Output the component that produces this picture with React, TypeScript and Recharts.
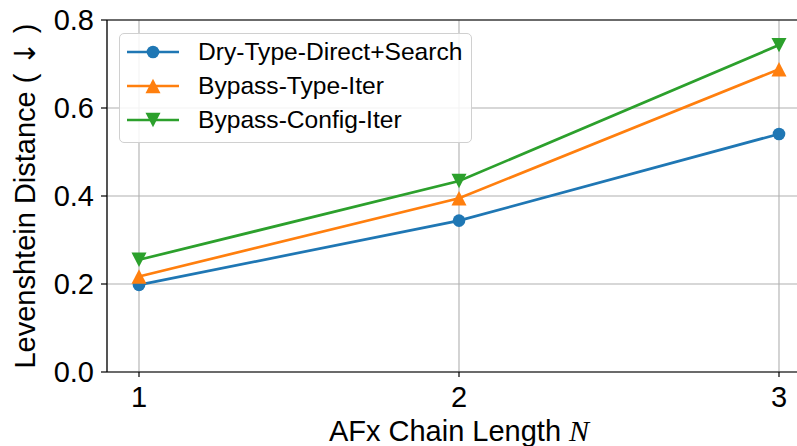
import { LineChart, Line, XAxis, YAxis, CartesianGrid, Legend, ReferenceLine, Label } from "recharts";

const chainLengths = [1, 2, 3];
const dryTypeDirectSearch = [0.198, 0.344, 0.541];
const bypassTypeIter = [0.217, 0.395, 0.688];
const bypassConfigIter = [0.255, 0.434, 0.743];
const yTicks = [0, 0.2, 0.4, 0.6, 0.8];

const seriesNames = ["Dry-Type-Direct+Search", "Bypass-Type-Iter", "Bypass-Config-Iter"];
const seriesKeys = ["dry", "typeIter", "configIter"];
const seriesColors = ["#1f77b4", "#ff7f0e", "#2ca02c"];
const seriesMarkers = ["circle", "up", "down"];

const data = chainLengths.map((n, i) => ({
  n,
  dry: dryTypeDirectSearch[i],
  typeIter: bypassTypeIter[i],
  configIter: bypassConfigIter[i],
}));

const FONT = "'Liberation Sans', Arial, Helvetica, sans-serif";
const AXIS_FONT_SIZE = 29;

function Marker({ cx, cy, kind, color }: { cx: number; cy: number; kind: string; color: string }) {
  if (kind === "circle") return <circle cx={cx} cy={cy} r={6.3} fill={color} />;
  const h = 7.2;
  const w = 7.5;
  const pts =
    kind === "up"
      ? `${cx},${cy - h} ${cx - w},${cy + h} ${cx + w},${cy + h}`
      : `${cx},${cy + h} ${cx - w},${cy - h} ${cx + w},${cy - h}`;
  return <polygon points={pts} fill={color} />;
}

function LegendBox() {
  return (
    <div
      style={{
        width: 353,
        height: 110,
        boxSizing: "border-box",
        border: "1px solid #d0d0d0",
        borderRadius: 5,
        background: "rgba(255,255,255,0.85)",
        padding: "1px 0 0 7px",
        fontFamily: FONT,
        fontSize: 24.6,
        color: "#000",
      }}
    >
      {seriesNames.map((name, i) => (
        <div key={name} style={{ height: 34, display: "flex", alignItems: "center" }}>
          <svg width={52} height={20} style={{ flexShrink: 0 }}>
            <line x1={0} y1={10} x2={52} y2={10} stroke={seriesColors[i]} strokeWidth={2.7} />
            <Marker cx={26} cy={10} kind={seriesMarkers[i]} color={seriesColors[i]} />
          </svg>
          <span style={{ marginLeft: 19, whiteSpace: "nowrap", lineHeight: "34px" }}>{name}</span>
        </div>
      ))}
    </div>
  );
}

export default function App() {
  return (
    <div style={{ position: "absolute", left: 0, top: 0, width: 797, height: 446, overflow: "hidden", background: "#fff" }}>
      <LineChart width={830} height={446} data={data} margin={{ top: 20, right: 19, left: 0, bottom: 0 }}>
        <CartesianGrid stroke="#b0b0b0" strokeWidth={1.1} />
        <XAxis
          dataKey="n"
          type="number"
          domain={[0.9, 3.1]}
          ticks={chainLengths}
          allowDataOverflow
          height={74}
          tickSize={5}
          tickMargin={9}
          axisLine={{ stroke: "#000", strokeWidth: 1.2 }}
          tickLine={{ stroke: "#000", strokeWidth: 1.2 }}
          tick={{ fontSize: AXIS_FONT_SIZE, fill: "#000", fontFamily: FONT }}
        >
          <Label
            content={({ viewBox }: any) => (
              <text
                x={viewBox.x + viewBox.width / 2}
                y={441}
                textAnchor="middle"
                fontSize={AXIS_FONT_SIZE}
                fontFamily={FONT}
                fill="#000"
              >
                AFx Chain Length{" "}
                <tspan fontFamily="'Liberation Serif', 'DejaVu Serif', serif" fontStyle="italic" fontSize={30}>
                  N
                </tspan>
              </text>
            )}
          />
        </XAxis>
        <YAxis
          type="number"
          domain={[0, 0.8]}
          ticks={yTicks}
          width={107}
          tickSize={6}
          tickMargin={7}
          tickFormatter={(v: number) => v.toFixed(1)}
          axisLine={{ stroke: "#000", strokeWidth: 1.2 }}
          tickLine={{ stroke: "#000", strokeWidth: 1.2 }}
          tick={{ fontSize: AXIS_FONT_SIZE, fill: "#000", fontFamily: FONT }}
        >
          <Label
            content={({ viewBox }: any) => {
              const x = 35;
              const y = viewBox.y + viewBox.height / 2;
              return (
                <text
                  x={x}
                  y={y}
                  transform={`rotate(-90, ${x}, ${y})`}
                  textAnchor="middle"
                  fontSize={AXIS_FONT_SIZE}
                  fontFamily={FONT}
                  fill="#000"
                >
                  Levenshtein Distance ({" "}
                  <tspan fontFamily="'DejaVu Sans', sans-serif">{"\u2193"}</tspan>
                  {" "})
                </text>
              );
            }}
          />
        </YAxis>
        <ReferenceLine y={0.8} stroke="#000" strokeWidth={1.2} />
        <Legend
          layout="vertical"
          align="center"
          verticalAlign="middle"
          content={() => <LegendBox />}
          wrapperStyle={{ left: 119, top: 33, width: 353, height: 110 }}
        />
        {seriesKeys.map((key, i) => (
          <Line
            key={key}
            dataKey={key}
            name={seriesNames[i]}
            stroke={seriesColors[i]}
            strokeWidth={2.7}
            isAnimationActive={false}
            activeDot={false}
            dot={(p: any) => (
              <Marker key={`${key}-${p.index}`} cx={p.cx} cy={p.cy} kind={seriesMarkers[i]} color={seriesColors[i]} />
            )}
          />
        ))}
      </LineChart>
    </div>
  );
}
